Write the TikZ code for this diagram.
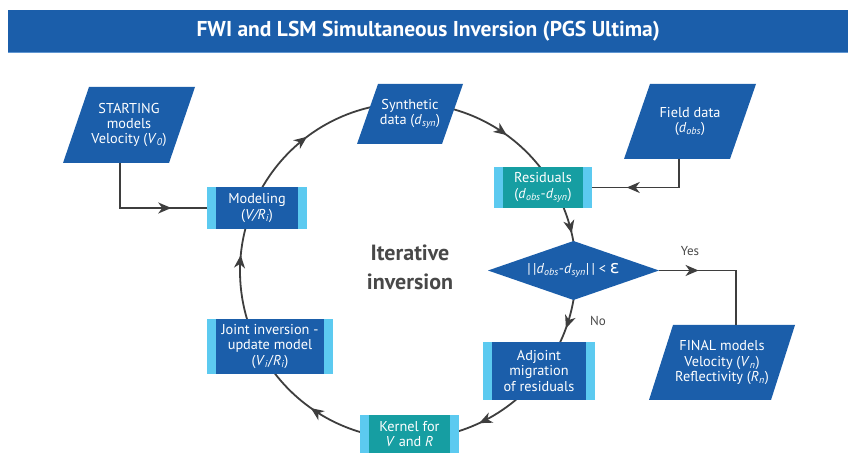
\documentclass[tikz,border=0pt]{standalone}
\usepackage{fontspec}
\setmainfont{PT Sans}
\newfontfamily\dejavu{DejaVu Sans}
\usetikzlibrary{arrows.meta,decorations.markings,calc}
\definecolor{pblue}{RGB}{27,94,170}
\definecolor{cyanL}{RGB}{92,202,240}
\definecolor{tealC}{RGB}{22,158,162}
\definecolor{lineC}{RGB}{62,62,62}
\definecolor{txtG}{RGB}{72,72,72}
\definecolor{barline}{RGB}{95,150,210}
\newcommand{\mysb}[1]{\textsubscript{\itshape #1}}
\newcommand{\myit}[1]{\textit{#1}}
\begin{document}
\begin{tikzpicture}[x=1pt,y=1pt,
  base/.style={text=white, font=\fontsize{14.3}{15.3}\selectfont, align=center, inner sep=0pt},
  para/.style={base, path picture={\fill[pblue] (path picture bounding box.south west) -- ([xshift=-#1]path picture bounding box.south east) -- (path picture bounding box.north east) -- ([xshift=#1]path picture bounding box.north west) -- cycle;}},
  sbox/.style={base, fill=#1, path picture={\fill[cyanL] (path picture bounding box.south west) rectangle ([xshift=9pt]path picture bounding box.north west); \fill[cyanL] (path picture bounding box.south east) rectangle ([xshift=-9pt]path picture bounding box.north east);}},
  diam/.style={base, path picture={\fill[pblue] (path picture bounding box.west) -- (path picture bounding box.north) -- (path picture bounding box.east) -- (path picture bounding box.south) -- cycle;}},
  conn/.style={draw=lineC, line width=1.8pt},
  arr/.style={decoration={markings, mark=at position #1 with {\arrow{Stealth[length=13pt,width=11pt,inset=4pt]}}}, postaction={decorate}},
  lbl/.style={text=txtG, font=\fontsize{13}{15}\selectfont, inner sep=0pt}
]
\useasboundingbox (0,0) rectangle (848,454);

% title bar
\node[fill=pblue, minimum width=840pt, minimum height=42pt, anchor=north west, inner sep=0pt,
      text=white, font=\bfseries\fontsize{21.5}{24}\selectfont] (title) at (8,444) {FWI and LSM Simultaneous Inversion (PGS Ultima)};
\draw[barline, line width=1.5pt] (title.south west) -- (title.south east);

% circle arcs
\coordinate (C) at (408,183);
\coordinate (c1) at ($(C)+(151:168)$);
\coordinate (c2) at ($(C)+(76:168)$);
\coordinate (c3) at ($(C)+(24:168)$);
\coordinate (c4) at ($(C)+(-8:168)$);
\coordinate (c5) at ($(C)+(-47:168)$);
\coordinate (c6) at ($(C)+(-104:168)$);
\coordinate (c7) at ($(C)+(198:168)$);
\draw[conn, arr=0.49] (c1) arc[start angle=151, end angle=102, radius=168];
\draw[conn, arr=0.55] (c2) arc[start angle=76, end angle=36, radius=168];
\draw[conn, arr=0.69] (c3) arc[start angle=24, end angle=8, radius=168];
\draw[conn, arr=0.63] (c4) arc[start angle=-8, end angle=-27, radius=168];
\draw[conn, arr=0.64] (c5) arc[start angle=-47, end angle=-75, radius=168];
\draw[conn, arr=0.52] (c6) arc[start angle=-104, end angle=-145, radius=168];
\draw[conn, arr=0.67] (c7) arc[start angle=198, end angle=163, radius=168];

% parallelograms
\node[para=26pt, minimum width=132pt, minimum height=76pt] (start) at (129,329) {STARTING\\models\\Velocity (\myit{V}\mysb{0})};
\node[para=21pt, minimum width=106pt, minimum height=60pt] (synth) at (410,340) {Synthetic\\data (\myit{d}\mysb{syn})};
\node[para=26pt, minimum width=132pt, minimum height=75pt] (field) at (690,332.5) {Field data\\(\myit{d}\mysb{obs})};
\node[para=24pt, minimum width=146pt, minimum height=75pt] (final) at (722,91.5) {FINAL models\\Velocity (\myit{V}\mysb{n})\\Reflectivity (\myit{R}\mysb{n})};

% strip boxes
\node[sbox=pblue, minimum width=100pt, minimum height=42pt] (mod) at (257,246) {Modeling\\(\myit{V/R}\mysb{i})};
\node[sbox=tealC, minimum width=98pt, minimum height=41pt] (res) at (543,266.5) {Residuals\\(\myit{d}\mysb{obs}-\myit{d}\mysb{syn})};
\node[sbox=pblue, minimum width=112pt, minimum height=58pt] (adj) at (539,83) {Adjoint\\migration\\of residuals};
\node[sbox=tealC, minimum width=99pt, minimum height=38pt] (ker) at (409.5,20) {Kernel for\\\myit{V} and \myit{R}};
\node[sbox=pblue, minimum width=126pt, minimum height=55pt] (joint) at (270,107.5) {Joint inversion -\\update model\\(\myit{V}\mysb{i}/\myit{R}\mysb{i})};

% decision diamond
\node[diam, minimum width=171pt, minimum height=59pt] (dia) at (573.5,183.5) {\textbar\,\textbar\myit{d}\mysb{obs}-\myit{d}\mysb{syn}\textbar\,\textbar{} < {\dejavu\fontsize{18}{18}\selectfont ε}};

% center label
\node[text=txtG, font=\bfseries\fontsize{22}{29}\selectfont, align=center, inner sep=0pt] (iter) at (410,187) {Iterative\\inversion};

% orthogonal connectors
\draw[conn, arr=0.73] ([xshift=-9pt]start.south) |- (mod.west);
\draw[conn, arr=0.70] ([xshift=-11pt]field.south) |- (res.east);
\draw[conn, arr=0.30] (dia.east) -| ([xshift=14pt]final.north);

\node[lbl] (yes) at (690,203) {Yes};
\node[lbl] (no) at (598,133) {No};
\end{tikzpicture}
\end{document}
